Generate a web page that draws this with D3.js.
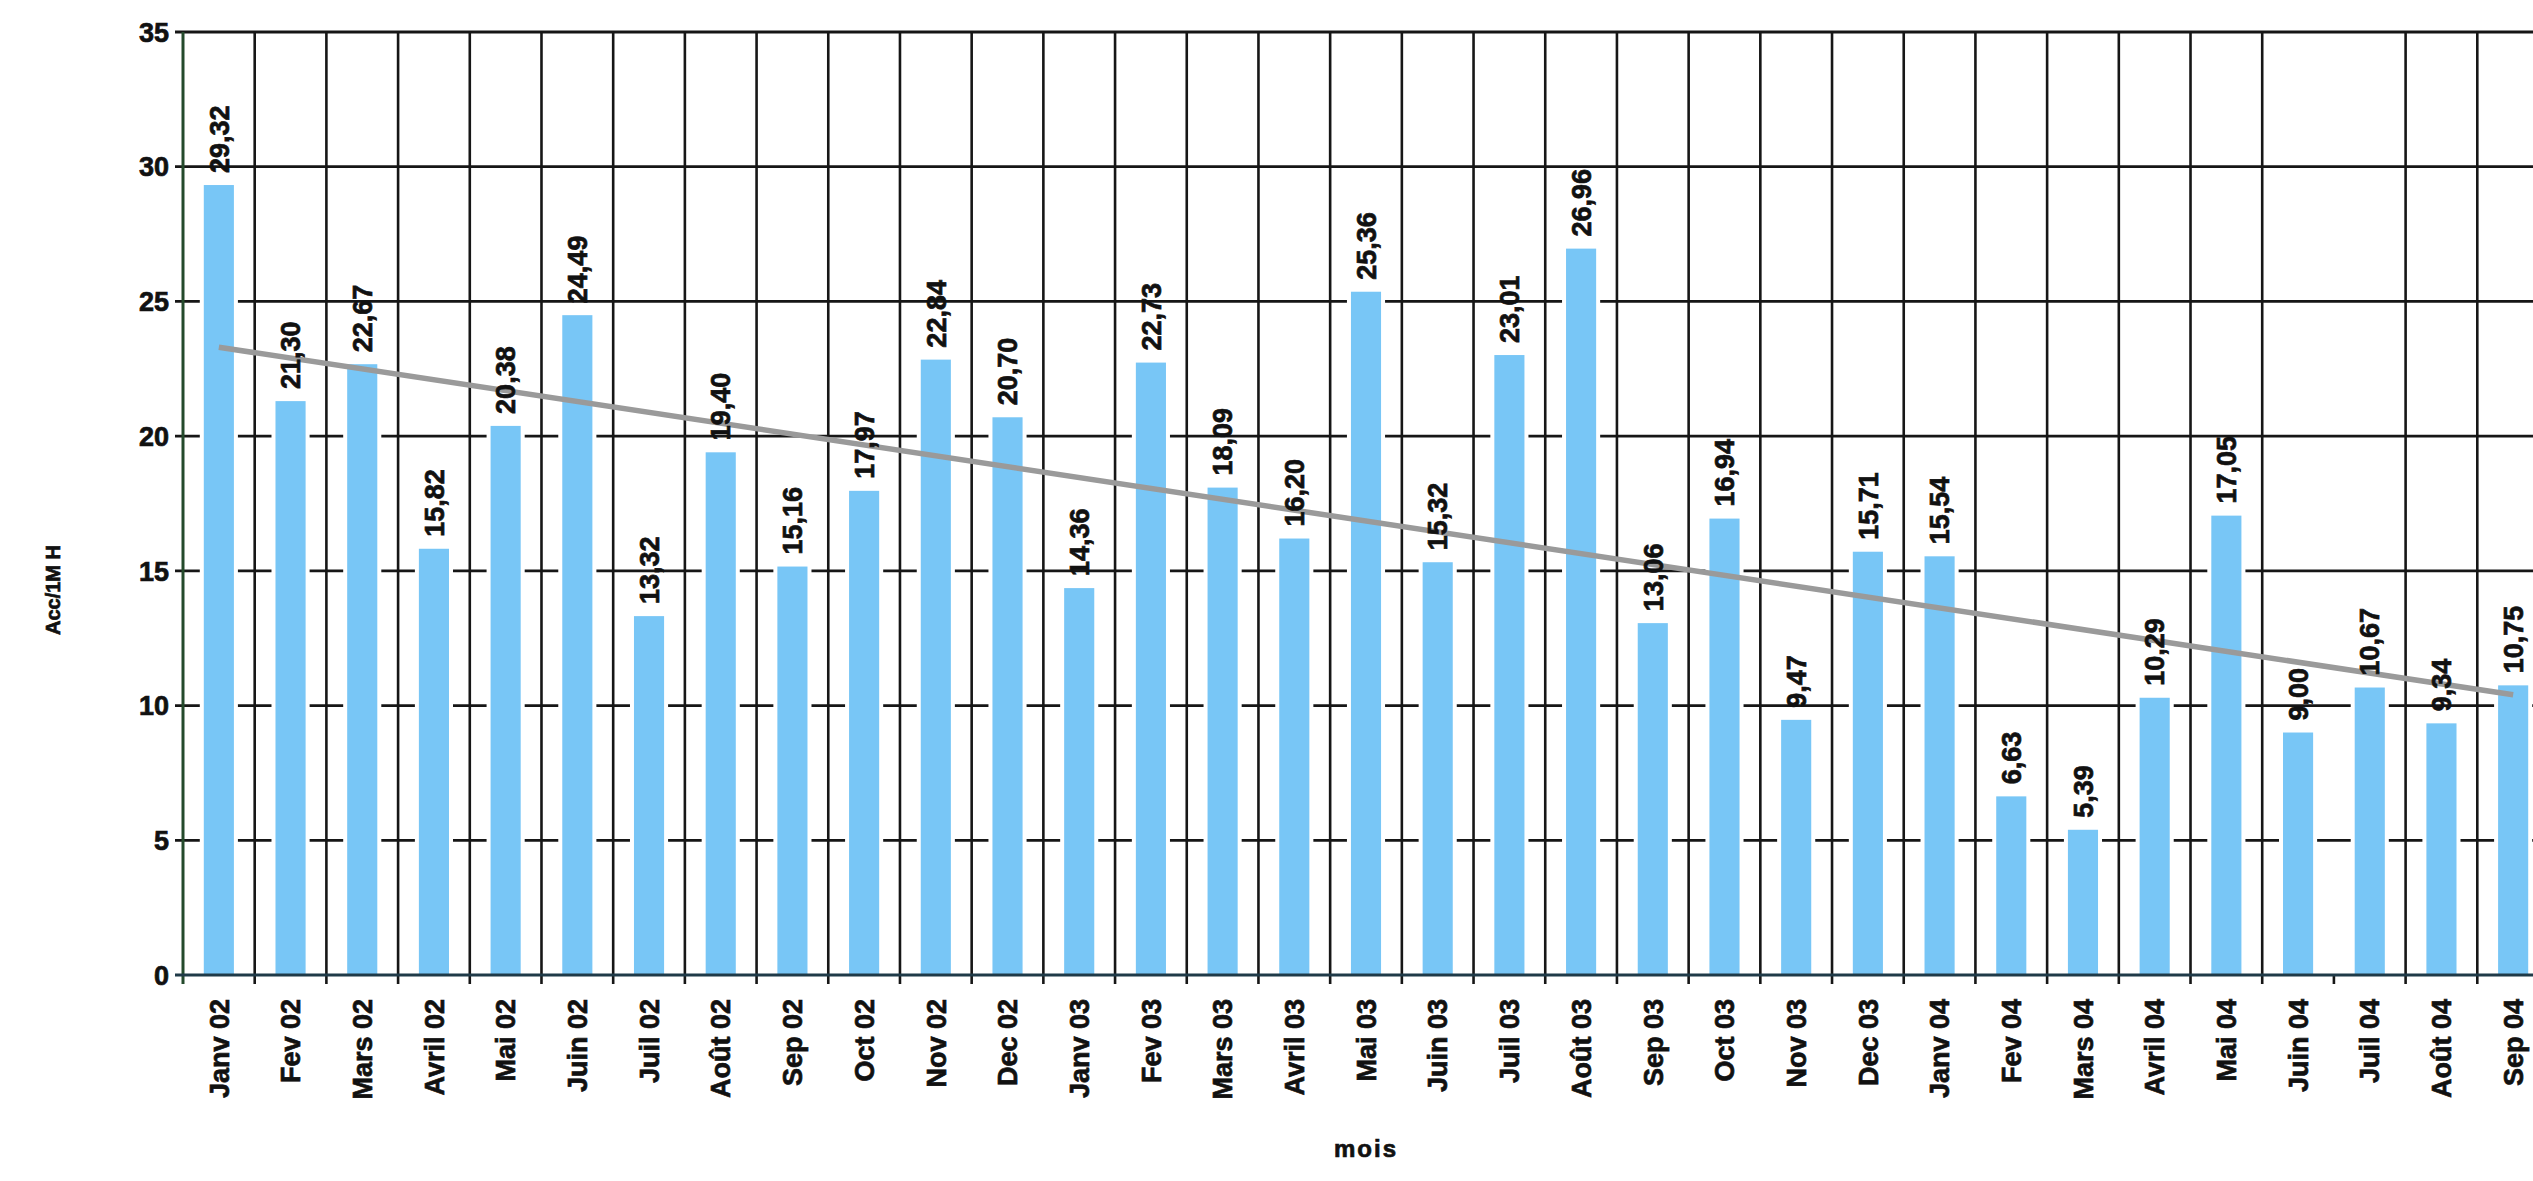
<!DOCTYPE html>
<html>
<head>
<meta charset="utf-8">
<script src="https://cdn.jsdelivr.net/npm/d3@7"></script>
<style>
html,body{margin:0;padding:0;background:#fff;overflow:hidden;}
svg{display:block;}
</style>
</head>
<body>
<svg id="chart" width="2533" height="1181"></svg>
<script>
const months = ["Janv 02","Fev 02","Mars 02","Avril 02","Mai 02","Juin 02","Juil 02","Août 02","Sep 02","Oct 02","Nov 02","Dec 02",
  "Janv 03","Fev 03","Mars 03","Avril 03","Mai 03","Juin 03","Juil 03","Août 03","Sep 03","Oct 03","Nov 03","Dec 03",
  "Janv 04","Fev 04","Mars 04","Avril 04","Mai 04","Juin 04","Juil 04","Août 04","Sep 04"];
const values = [29.32,21.30,22.67,15.82,20.38,24.49,13.32,19.40,15.16,17.97,22.84,20.70,
  14.36,22.73,18.09,16.20,25.36,15.32,23.01,26.96,13.06,16.94,9.47,15.71,
  15.54,6.63,5.39,10.29,17.05,9.00,10.67,9.34,10.75];
const yTicks = [0,5,10,15,20,25,30,35];
const trendMonths = ["Janv 02","Sep 04"];
const trendValues = [23.3,10.4];
const hiddenGridBefore = ["Juil 04"];
const yTitle = "Acc/1M H";
const xTitle = "mois";

(function(){
const W = 2533, H = 1181;
const pLeft = 183, pTop = 32, pBottom = 975, pRight = 2549;
const svg = d3.select("#chart");
const FONT = "'Liberation Sans', Arial, sans-serif";

const x = d3.scaleBand().domain(months).range([pLeft, pRight]).paddingInner(0.58).paddingOuter(0.29);
const y = d3.scaleLinear().domain([0,35]).range([pBottom, pTop]);
const step = x.step();
const cx = m => x(m) + x.bandwidth()/2;
const data = months.map((m,i)=>({m, v: values[i]}));

// horizontal gridlines (with outward tick)
svg.append("g").selectAll("line").data(yTicks.filter(t=>t>0)).join("line")
  .attr("x1", pLeft-8).attr("x2", W).attr("y1", d=>y(d)).attr("y2", d=>y(d))
  .attr("stroke", "#161616").attr("stroke-width", 2.8);

// vertical gridlines at band boundaries
const bounds = months.map((m,i)=>({m, i, xb: cx(m) - step/2})).concat([{m:null, i:months.length, xb: cx(months[months.length-1]) + step/2}]);
svg.append("g").selectAll("line").data(bounds.filter(b=>b.i>0)).join("line")
  .attr("x1", d=>d.xb).attr("x2", d=>d.xb)
  .attr("y1", d=> hiddenGridBefore.includes(d.m) ? pBottom : pTop)
  .attr("y2", pBottom+9)
  .attr("stroke", "#161616").attr("stroke-width", 2.6);

// y axis line
svg.append("line").attr("x1", pLeft).attr("x2", pLeft).attr("y1", pTop).attr("y2", pBottom+9)
  .attr("stroke", "#244a2c").attr("stroke-width", 3);

// bars with white halo
const bw = x.bandwidth();
svg.append("g").selectAll("rect").data(data).join("rect")
  .attr("x", d=>x(d.m)-4).attr("width", bw+8)
  .attr("y", d=>y(d.v)-6).attr("height", d=>pBottom - y(d.v) + 6)
  .attr("fill", "#ffffff");
svg.append("g").selectAll("rect").data(data).join("rect")
  .attr("x", d=>x(d.m)).attr("width", bw)
  .attr("y", d=>y(d.v)).attr("height", d=>pBottom - y(d.v))
  .attr("fill", "#78c6f6");

// x axis line (0)
svg.append("line").attr("x1", pLeft-8).attr("x2", W).attr("y1", y(0)).attr("y2", y(0))
  .attr("stroke", "#1f3a48").attr("stroke-width", 3.2);

// trend line
const trend = trendMonths.map((m,i)=>({m, v: trendValues[i]}));
svg.append("path").datum(trend)
  .attr("d", d3.line().x(d=>cx(d.m)).y(d=>y(d.v)))
  .attr("fill","none").attr("stroke","#9a9a9a").attr("stroke-width",5.5);

function heavy(sel){ return sel.attr("fill","#111").attr("stroke","#111").attr("stroke-width",0.7); }

// value labels
heavy(svg.append("g").selectAll("text").data(data).join("text")
  .attr("transform", d=>`translate(${cx(d.m)},${y(d.v)-12}) rotate(-90)`)
  .attr("dy","0.36em")
  .attr("text-anchor","start")
  .attr("font-family", FONT).attr("font-weight","bold").attr("font-size", 27)
  .text(d=>d.v.toFixed(2).replace(".",",")));

// y tick labels
heavy(svg.append("g").selectAll("text").data(yTicks).join("text")
  .attr("x", pLeft-14).attr("y", d=>y(d)).attr("dy","0.36em")
  .attr("text-anchor","end")
  .attr("font-family", FONT).attr("font-weight","bold").attr("font-size", 27)
  .text(d=>d));

// x tick labels
heavy(svg.append("g").selectAll("text").data(months).join("text")
  .attr("transform", d=>`translate(${cx(d)},${pBottom+24}) rotate(-90)`)
  .attr("dy","0.36em")
  .attr("text-anchor","end")
  .attr("font-family", FONT).attr("font-weight","bold").attr("font-size", 27)
  .text(d=>d));

// axis titles
heavy(svg.append("text")
  .attr("transform", `translate(53,590) rotate(-90)`)
  .attr("dy","0.36em").attr("text-anchor","middle")
  .attr("font-family", FONT).attr("font-weight","bold").attr("font-size", 20)
  .text(yTitle));
heavy(svg.append("text")
  .attr("x", 1366).attr("y", 1148).attr("dy","0.36em").attr("text-anchor","middle")
  .attr("font-family", FONT).attr("font-weight","bold").attr("font-size", 24)
  .attr("letter-spacing", 2)
  .text(xTitle));
})();
</script>
</body>
</html>
